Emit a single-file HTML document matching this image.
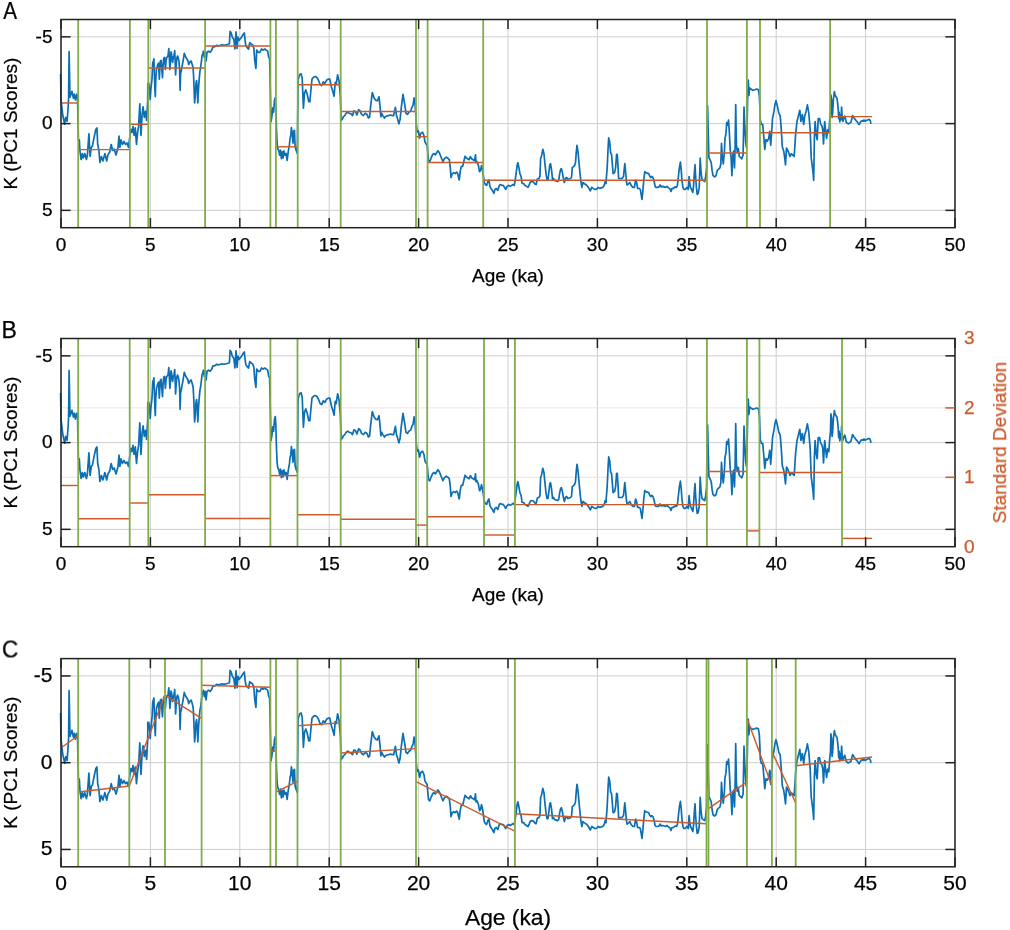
<!DOCTYPE html>
<html><head><meta charset="utf-8"><style>
html,body{margin:0;padding:0;background:#fff;}
svg{display:block;font-family:"Liberation Sans",sans-serif;will-change:transform;}
text{stroke:#000;stroke-width:0.25px;}
text.o{stroke:#cc5a2c;}

</style></head><body>
<svg width="1010" height="930" viewBox="0 0 1010 930">
<defs><filter id="soft" x="0" y="0" width="1" height="1"><feGaussianBlur stdDeviation="0.3"/></filter></defs>
<rect width="1010" height="930" fill="#fff"/>
<g filter="url(#soft)">
<rect width="1010" height="930" fill="#fff"/>
<line x1="61.00" y1="19.5" x2="61.00" y2="227.7" stroke="#cecece" stroke-width="1"/>
<line x1="150.40" y1="19.5" x2="150.40" y2="227.7" stroke="#cecece" stroke-width="1"/>
<line x1="239.80" y1="19.5" x2="239.80" y2="227.7" stroke="#cecece" stroke-width="1"/>
<line x1="329.20" y1="19.5" x2="329.20" y2="227.7" stroke="#cecece" stroke-width="1"/>
<line x1="418.60" y1="19.5" x2="418.60" y2="227.7" stroke="#cecece" stroke-width="1"/>
<line x1="508.00" y1="19.5" x2="508.00" y2="227.7" stroke="#cecece" stroke-width="1"/>
<line x1="597.40" y1="19.5" x2="597.40" y2="227.7" stroke="#cecece" stroke-width="1"/>
<line x1="686.80" y1="19.5" x2="686.80" y2="227.7" stroke="#cecece" stroke-width="1"/>
<line x1="776.20" y1="19.5" x2="776.20" y2="227.7" stroke="#cecece" stroke-width="1"/>
<line x1="865.60" y1="19.5" x2="865.60" y2="227.7" stroke="#cecece" stroke-width="1"/>
<line x1="955.00" y1="19.5" x2="955.00" y2="227.7" stroke="#cecece" stroke-width="1"/>
<line x1="61.0" y1="36.85" x2="955.0" y2="36.85" stroke="#cecece" stroke-width="1"/>
<line x1="61.0" y1="123.60" x2="955.0" y2="123.60" stroke="#cecece" stroke-width="1"/>
<line x1="61.0" y1="210.35" x2="955.0" y2="210.35" stroke="#cecece" stroke-width="1"/>
<path d="M60.6,54.4 L61.0,80.5 L62.8,96.0 L64.7,104.7 L65.7,97.9 L67.1,101.8 L68.1,88.3 L68.6,78.6 L69.1,32.1 L70.0,77.6 L72.0,71.8 L73.4,78.6 L74.4,74.7 L75.4,80.5 L76.8,74.7 L77.5,76.6 L78.4,120.4 L79.3,120.4 L79.9,131.0 L81.1,140.0 L82.3,134.0 L83.3,138.5 L84.8,134.0 L86.4,140.0 L87.4,135.5 L88.9,114.4 L90.1,137.0 L91.3,128.0 L92.4,126.5 L93.9,118.9 L95.8,109.9 L96.9,108.4 L97.7,125.0 L98.9,131.0 L99.9,143.0 L101.4,137.0 L102.9,141.5 L104.9,134.0 L106.7,141.5 L107.9,135.5 L109.7,132.5 L111.2,125.0 L112.7,131.0 L114.2,129.5 L116.0,135.5 L118.0,128.0 L119.0,116.7 L119.9,128.0 L121.0,120.4 L122.5,125.0 L124.0,121.9 L125.5,125.0 L127.0,123.5 L128.5,128.0 L129.6,118.9 L130.8,109.9 L132.0,112.9 L133.0,106.9 L134.1,115.9 L135.3,108.4 L136.5,125.0 L137.6,112.9 L138.6,106.9 L139.8,84.3 L141.0,115.9 L142.1,94.8 L143.1,87.3 L144.3,97.8 L145.5,91.8 L146.6,100.9 L147.7,81.3 L147.8,63.8 L148.8,63.8 L149.5,69.4 L150.2,79.9 L150.9,69.4 L152.0,59.6 L152.7,43.6 L153.4,41.5 L153.9,39.4 L154.4,55.4 L154.9,69.4 L155.3,77.1 L155.8,59.6 L156.5,49.9 L157.2,47.1 L157.9,45.0 L158.6,43.6 L159.3,59.6 L159.8,49.9 L160.4,41.5 L161.1,40.8 L161.8,49.9 L162.5,58.2 L163.0,47.1 L163.7,38.7 L164.6,38.0 L165.4,49.9 L166.0,41.5 L166.7,38.0 L167.4,37.3 L168.1,35.9 L168.8,29.2 L169.3,38.0 L169.9,49.9 L170.5,41.5 L171.0,32.4 L171.6,34.5 L172.1,40.1 L172.6,42.9 L173.3,38.0 L174.0,35.9 L174.7,31.0 L175.2,42.9 L175.6,55.4 L176.1,47.1 L176.8,38.7 L177.5,36.6 L178.2,38.0 L178.9,41.5 L179.6,49.9 L180.1,70.8 L180.6,54.0 L181.3,51.2 L182.0,47.1 L182.7,43.6 L183.4,39.4 L184.3,33.8 L185.0,35.9 L185.9,38.0 L186.9,39.4 L188.0,41.5 L188.7,45.0 L189.4,43.6 L190.3,42.2 L191.1,41.5 L192.2,45.0 L193.1,48.5 L193.6,56.8 L194.1,69.4 L194.6,83.4 L195.3,76.4 L196.0,63.8 L196.6,61.0 L197.3,69.4 L197.8,83.4 L198.5,69.4 L199.2,59.6 L199.9,51.9 L200.6,48.5 L201.3,42.9 L202.0,36.6 L202.7,34.5 L203.4,31.7 L204.0,35.9 L204.4,38.0 L205.1,32.8 L206.1,41.4 L207.0,32.8 L208.6,31.7 L210.2,32.8 L211.8,30.6 L212.9,27.4 L214.5,27.4 L216.7,25.8 L218.8,26.3 L220.4,25.8 L222.0,25.2 L224.2,25.8 L226.3,25.2 L228.0,24.7 L229.4,24.2 L230.1,11.8 L231.2,13.4 L232.3,17.7 L233.9,19.9 L234.9,29.5 L236.0,12.3 L237.1,29.0 L238.0,17.7 L239.0,20.9 L241.6,17.7 L242.7,15.6 L244.3,13.4 L245.2,22.0 L245.9,26.3 L247.5,28.5 L248.6,29.5 L249.7,23.1 L250.8,24.2 L252.4,25.2 L253.8,28.5 L254.8,41.4 L255.9,48.9 L256.7,30.6 L258.3,32.8 L259.9,32.8 L261.5,29.5 L263.1,30.6 L264.7,29.5 L266.3,30.6 L267.7,31.7 L268.8,38.1 L269.6,39.2 L270.6,84.1 L271.0,102.2 L271.9,97.0 L272.8,88.4 L273.6,92.7 L274.5,80.7 L275.3,78.1 L275.8,85.8 L276.5,109.9 L277.1,123.7 L277.7,128.8 L278.8,131.4 L279.6,135.7 L280.5,130.6 L281.4,139.2 L282.2,132.3 L283.1,138.3 L283.9,131.4 L285.1,135.7 L286.1,134.0 L287.1,140.9 L288.2,132.3 L289.4,125.4 L290.0,119.4 L290.8,115.9 L291.4,108.2 L292.1,113.3 L293.0,123.7 L293.7,111.6 L294.5,110.8 L295.1,127.1 L296.0,130.6 L296.8,132.3 L297.3,134.0 L298.1,60.7 L298.6,58.6 L299.7,55.3 L301.1,54.3 L302.2,58.6 L303.4,88.7 L304.5,73.6 L305.8,70.4 L307.2,74.7 L308.8,82.2 L309.9,82.2 L311.0,69.3 L312.0,59.6 L313.7,57.5 L315.3,57.0 L316.9,58.0 L318.5,60.7 L320.1,65.0 L321.7,66.1 L323.3,62.3 L324.9,63.9 L326.6,60.7 L328.2,59.6 L329.8,59.6 L331.4,67.2 L332.7,71.5 L334.1,76.8 L335.2,62.9 L336.2,65.0 L337.6,55.3 L339.1,61.8 L340.3,76.0 L341.2,100.9 L342.3,99.7 L343.3,97.3 L344.7,96.1 L346.2,93.8 L347.8,92.6 L349.2,93.8 L351.0,94.3 L352.5,96.1 L353.9,91.4 L355.4,92.0 L356.9,95.5 L358.7,90.2 L360.1,91.4 L361.6,94.9 L363.4,96.1 L365.2,93.8 L367.0,94.9 L368.4,98.5 L369.6,97.3 L370.5,87.8 L372.3,73.0 L374.1,78.4 L375.8,80.7 L377.4,81.3 L379.0,77.2 L380.0,86.7 L380.9,97.3 L381.7,93.8 L382.9,96.1 L384.5,98.5 L385.9,96.7 L388.3,96.1 L390.6,95.5 L392.4,96.1 L393.6,96.1 L395.4,87.8 L396.5,96.1 L397.7,99.7 L398.9,104.4 L400.1,99.7 L401.3,87.8 L403.0,74.8 L404.8,85.5 L406.0,93.8 L407.4,94.9 L409.0,92.6 L410.7,91.4 L411.9,87.8 L413.1,85.5 L414.1,78.4 L414.9,81.9 L415.5,91.4 L416.4,105.6 L417.2,112.7 L418.4,111.5 L419.6,118.6 L420.8,113.9 L422.6,112.7 L424.0,116.2 L424.9,122.2 L426.1,124.5 L427.1,125.7 L428.5,141.1 L429.7,142.3 L431.1,138.7 L432.6,135.2 L433.8,134.0 L435.4,135.3 L437.9,131.3 L439.4,133.3 L440.9,137.2 L442.9,142.2 L444.4,139.2 L446.3,137.7 L447.8,138.7 L449.3,140.2 L450.3,148.1 L451.0,158.0 L452.3,154.1 L453.8,153.1 L455.2,154.1 L456.7,152.6 L457.7,154.1 L459.2,160.5 L460.2,152.1 L461.2,147.1 L462.7,146.6 L464.2,140.2 L465.1,136.7 L466.1,138.2 L467.6,139.2 L469.1,140.2 L470.4,137.2 L471.6,139.2 L473.1,140.2 L474.6,141.2 L475.5,135.3 L476.0,143.2 L477.0,142.2 L478.5,146.1 L479.5,152.1 L480.5,151.1 L481.5,146.1 L482.5,150.1 L483.5,157.0 L484.3,163.0 L485.4,165.0 L486.6,165.9 L487.9,162.0 L488.9,160.5 L489.9,166.9 L490.9,168.9 L492.4,170.9 L493.9,173.9 L494.9,169.9 L496.3,168.9 L497.8,170.9 L499.3,165.9 L500.5,165.0 L501.8,165.9 L503.3,165.9 L504.5,167.9 L505.7,169.9 L507.2,166.9 L508.7,165.9 L510.2,166.9 L511.7,165.9 L513.0,165.0 L514.2,165.9 L515.0,162.0 L516.1,154.1 L517.1,146.1 L517.9,143.2 L518.9,148.1 L519.9,154.1 L521.1,157.0 L522.1,164.0 L523.6,164.0 L525.0,165.9 L526.5,166.9 L528.0,167.9 L529.0,165.9 L530.4,162.5 L531.9,162.0 L533.4,162.5 L534.9,164.5 L536.1,165.0 L537.4,159.5 L538.9,159.0 L539.9,157.0 L540.6,139.2 L541.6,136.2 L542.8,129.8 L544.0,134.3 L544.8,143.2 L546.0,154.1 L547.0,160.0 L548.0,160.0 L549.0,152.1 L549.8,145.2 L550.5,144.2 L551.5,150.1 L552.5,160.0 L553.5,159.0 L554.7,161.0 L556.2,161.5 L557.5,162.0 L558.7,161.0 L559.7,154.1 L560.6,150.1 L561.4,149.1 L562.4,153.1 L563.4,159.0 L564.4,163.0 L565.4,159.0 L566.6,158.0 L567.8,160.0 L569.1,159.5 L570.5,159.0 L571.5,158.0 L572.3,148.1 L573.5,147.1 L574.5,146.1 L575.5,143.2 L576.3,132.3 L577.0,125.8 L578.0,132.3 L579.0,143.2 L580.0,154.1 L580.9,162.0 L581.9,167.9 L582.9,163.0 L584.2,164.0 L585.6,165.0 L586.9,165.9 L588.4,167.9 L590.3,171.4 L591.8,167.9 L593.3,168.9 L594.8,169.9 L596.3,169.9 L598.3,167.9 L599.8,168.9 L601.2,168.4 L602.7,167.9 L604.2,165.9 L605.2,162.0 L606.0,164.0 L606.4,158.0 L607.2,148.1 L608.0,130.3 L608.7,118.4 L609.7,122.4 L610.6,133.3 L611.6,135.3 L612.6,148.1 L613.1,154.1 L614.6,153.1 L615.6,148.1 L616.6,134.8 L617.3,135.3 L618.1,148.1 L618.6,159.0 L620.0,159.0 L622.0,159.0 L623.5,157.0 L624.8,144.2 L625.7,153.1 L626.4,162.0 L627.1,165.5 L628.4,164.5 L629.9,163.0 L631.1,165.9 L632.9,167.9 L634.4,167.9 L635.6,160.5 L636.6,163.0 L637.6,168.9 L639.0,168.9 L640.3,169.9 L641.3,175.8 L642.0,179.8 L643.0,169.9 L643.8,160.0 L644.8,152.1 L645.7,153.1 L647.2,153.6 L648.7,154.1 L649.7,156.5 L650.7,158.0 L651.7,157.0 L652.9,158.0 L654.2,162.0 L655.1,166.9 L656.1,167.9 L657.6,167.9 L659.1,167.4 L660.1,165.5 L661.4,167.4 L662.6,166.9 L664.1,167.4 L665.5,167.9 L667.0,166.9 L668.5,168.4 L670.0,169.4 L671.0,171.9 L672.0,168.9 L673.5,168.9 L675.0,167.4 L676.4,167.9 L677.4,165.9 L678.4,157.0 L679.4,148.1 L680.4,142.7 L681.2,150.1 L681.9,160.0 L682.9,167.9 L683.9,169.9 L685.3,169.9 L686.8,167.9 L688.3,169.9 L689.1,157.0 L689.8,164.0 L690.5,167.9 L691.5,169.9 L692.8,172.9 L693.5,166.9 L694.3,154.1 L695.0,145.2 L695.7,158.0 L696.4,167.9 L697.2,174.9 L698.2,173.9 L699.2,167.9 L700.2,138.7 L701.0,152.1 L702.0,160.0 L703.2,161.0 L704.7,162.0 L705.6,158.0 L706.6,148.1 L706.9,112.2 L707.6,86.3 L708.2,112.2 L708.9,138.0 L710.2,140.6 L711.2,143.2 L712.1,150.9 L713.0,156.1 L714.7,157.4 L716.0,156.1 L717.3,150.9 L718.6,149.6 L719.9,148.4 L720.8,144.5 L721.5,123.8 L722.4,138.0 L723.3,144.5 L724.4,132.9 L725.0,118.6 L725.9,114.8 L726.7,103.1 L727.6,105.7 L728.5,100.6 L729.3,112.2 L730.2,130.3 L731.1,138.0 L731.9,156.1 L732.8,135.4 L733.7,131.6 L734.5,148.4 L735.1,127.7 L735.7,85.0 L736.4,125.1 L737.3,132.9 L738.3,129.0 L739.2,136.7 L740.5,138.0 L741.8,139.3 L743.1,135.4 L744.0,87.6 L744.8,105.7 L745.7,122.5 L746.3,127.7 L747.0,112.2 L747.6,79.9 L748.3,60.5 L748.9,76.0 L749.6,68.3 L750.9,69.5 L752.8,70.8 L754.7,70.2 L756.7,69.5 L758.4,70.2 L759.3,76.0 L759.8,86.3 L760.3,100.6 L761.3,104.8 L762.7,104.8 L763.7,116.0 L764.8,130.0 L765.9,120.2 L767.3,121.6 L768.7,118.8 L769.7,111.8 L770.7,125.8 L771.5,114.6 L772.5,99.2 L773.9,92.2 L774.9,85.3 L776.0,81.1 L777.4,86.7 L778.8,93.6 L780.2,96.4 L781.3,110.4 L782.3,127.2 L783.7,131.4 L784.7,138.4 L785.5,145.4 L786.5,128.6 L787.4,130.0 L788.6,132.8 L790.0,137.0 L791.4,134.2 L792.8,135.6 L794.2,137.0 L795.6,114.6 L797.0,102.0 L798.4,96.4 L799.8,90.8 L800.9,102.0 L802.3,95.0 L803.7,104.8 L804.7,96.4 L806.0,92.2 L807.4,85.3 L808.8,93.6 L810.2,110.4 L811.2,138.4 L812.3,146.8 L813.0,152.4 L813.7,160.8 L814.4,117.4 L815.1,102.0 L816.3,116.0 L817.2,120.2 L818.2,99.2 L819.6,99.2 L820.7,104.8 L821.9,106.2 L822.8,110.4 L823.5,124.4 L824.7,102.0 L825.6,110.4 L826.6,118.8 L827.7,110.4 L828.8,113.2 L829.8,99.2 L830.5,92.8 L830.9,75.3 L831.5,79.9 L832.1,97.9 L832.7,92.8 L833.4,79.9 L834.4,72.1 L835.0,75.3 L836.0,77.3 L836.9,78.6 L837.6,83.1 L838.2,89.5 L838.7,99.2 L839.2,92.8 L839.8,102.4 L840.5,95.3 L841.0,100.5 L841.6,87.6 L842.1,96.6 L842.9,101.8 L843.7,99.2 L844.7,96.6 L845.5,99.2 L846.3,103.1 L847.3,103.7 L848.2,104.4 L849.5,103.7 L850.8,103.1 L851.8,99.2 L852.6,96.0 L853.7,97.9 L854.7,99.2 L856.0,101.1 L857.3,102.4 L858.5,104.4 L859.2,105.0 L860.2,103.1 L861.1,101.8 L862.1,101.1 L863.1,101.8 L864.0,100.5 L865.0,101.8 L866.3,101.1 L867.6,100.5 L868.9,99.9 L869.8,100.5 L870.5,101.8 L870.9,104.4" transform="translate(0,19.5)" fill="none" stroke="#0a6eb4" stroke-width="1.7" stroke-linejoin="round"/>
<line x1="61" y1="103" x2="78.2" y2="103" stroke="#cc5a2c" stroke-width="1.45"/><line x1="78.2" y1="149.6" x2="129.9" y2="149.6" stroke="#cc5a2c" stroke-width="1.45"/><line x1="129.9" y1="124.3" x2="148.3" y2="124.3" stroke="#cc5a2c" stroke-width="1.45"/><line x1="148.3" y1="68" x2="205.1" y2="68" stroke="#cc5a2c" stroke-width="1.45"/><line x1="205.1" y1="46" x2="270.4" y2="46" stroke="#cc5a2c" stroke-width="1.45"/><line x1="275.9" y1="146.8" x2="297.7" y2="146.8" stroke="#cc5a2c" stroke-width="1.45"/><line x1="297.7" y1="84.7" x2="340.7" y2="84.7" stroke="#cc5a2c" stroke-width="1.45"/><line x1="340.7" y1="111.4" x2="416" y2="111.4" stroke="#cc5a2c" stroke-width="1.45"/><line x1="416" y1="136.7" x2="427.6" y2="136.7" stroke="#cc5a2c" stroke-width="1.45"/><line x1="427.6" y1="162.5" x2="483.2" y2="162.5" stroke="#cc5a2c" stroke-width="1.45"/><line x1="483.2" y1="180.3" x2="707" y2="180.3" stroke="#cc5a2c" stroke-width="1.45"/><line x1="707" y1="153" x2="746.9" y2="153" stroke="#cc5a2c" stroke-width="1.45"/><line x1="760" y1="132.8" x2="830.1" y2="132.8" stroke="#cc5a2c" stroke-width="1.45"/><line x1="830.1" y1="116.6" x2="872" y2="116.6" stroke="#cc5a2c" stroke-width="1.45"/>
<line x1="78.2" y1="19.5" x2="78.2" y2="227.7" stroke="#80ad48" stroke-width="1.8"/>
<line x1="129.9" y1="19.5" x2="129.9" y2="227.7" stroke="#80ad48" stroke-width="1.8"/>
<line x1="148.3" y1="19.5" x2="148.3" y2="227.7" stroke="#80ad48" stroke-width="1.8"/>
<line x1="205.1" y1="19.5" x2="205.1" y2="227.7" stroke="#80ad48" stroke-width="1.8"/>
<line x1="270.4" y1="19.5" x2="270.4" y2="227.7" stroke="#80ad48" stroke-width="1.8"/>
<line x1="275.9" y1="19.5" x2="275.9" y2="227.7" stroke="#80ad48" stroke-width="1.8"/>
<line x1="297.7" y1="19.5" x2="297.7" y2="227.7" stroke="#80ad48" stroke-width="1.8"/>
<line x1="340.7" y1="19.5" x2="340.7" y2="227.7" stroke="#80ad48" stroke-width="1.8"/>
<line x1="416.0" y1="19.5" x2="416.0" y2="227.7" stroke="#80ad48" stroke-width="1.8"/>
<line x1="427.6" y1="19.5" x2="427.6" y2="227.7" stroke="#80ad48" stroke-width="1.8"/>
<line x1="483.2" y1="19.5" x2="483.2" y2="227.7" stroke="#80ad48" stroke-width="1.8"/>
<line x1="707.0" y1="19.5" x2="707.0" y2="227.7" stroke="#80ad48" stroke-width="1.8"/>
<line x1="746.9" y1="19.5" x2="746.9" y2="227.7" stroke="#80ad48" stroke-width="1.8"/>
<line x1="760.0" y1="19.5" x2="760.0" y2="227.7" stroke="#80ad48" stroke-width="1.8"/>
<line x1="830.1" y1="19.5" x2="830.1" y2="227.7" stroke="#80ad48" stroke-width="1.8"/>
<rect x="61.0" y="19.5" width="894.0" height="208.2" fill="none" stroke="#222" stroke-width="1.5"/>
<line x1="61.00" y1="227.7" x2="61.00" y2="218.1" stroke="#222" stroke-width="1.5"/>
<line x1="61.00" y1="19.5" x2="61.00" y2="29.1" stroke="#222" stroke-width="1.5"/>
<line x1="150.40" y1="227.7" x2="150.40" y2="218.1" stroke="#222" stroke-width="1.5"/>
<line x1="150.40" y1="19.5" x2="150.40" y2="29.1" stroke="#222" stroke-width="1.5"/>
<line x1="239.80" y1="227.7" x2="239.80" y2="218.1" stroke="#222" stroke-width="1.5"/>
<line x1="239.80" y1="19.5" x2="239.80" y2="29.1" stroke="#222" stroke-width="1.5"/>
<line x1="329.20" y1="227.7" x2="329.20" y2="218.1" stroke="#222" stroke-width="1.5"/>
<line x1="329.20" y1="19.5" x2="329.20" y2="29.1" stroke="#222" stroke-width="1.5"/>
<line x1="418.60" y1="227.7" x2="418.60" y2="218.1" stroke="#222" stroke-width="1.5"/>
<line x1="418.60" y1="19.5" x2="418.60" y2="29.1" stroke="#222" stroke-width="1.5"/>
<line x1="508.00" y1="227.7" x2="508.00" y2="218.1" stroke="#222" stroke-width="1.5"/>
<line x1="508.00" y1="19.5" x2="508.00" y2="29.1" stroke="#222" stroke-width="1.5"/>
<line x1="597.40" y1="227.7" x2="597.40" y2="218.1" stroke="#222" stroke-width="1.5"/>
<line x1="597.40" y1="19.5" x2="597.40" y2="29.1" stroke="#222" stroke-width="1.5"/>
<line x1="686.80" y1="227.7" x2="686.80" y2="218.1" stroke="#222" stroke-width="1.5"/>
<line x1="686.80" y1="19.5" x2="686.80" y2="29.1" stroke="#222" stroke-width="1.5"/>
<line x1="776.20" y1="227.7" x2="776.20" y2="218.1" stroke="#222" stroke-width="1.5"/>
<line x1="776.20" y1="19.5" x2="776.20" y2="29.1" stroke="#222" stroke-width="1.5"/>
<line x1="865.60" y1="227.7" x2="865.60" y2="218.1" stroke="#222" stroke-width="1.5"/>
<line x1="865.60" y1="19.5" x2="865.60" y2="29.1" stroke="#222" stroke-width="1.5"/>
<line x1="955.00" y1="227.7" x2="955.00" y2="218.1" stroke="#222" stroke-width="1.5"/>
<line x1="955.00" y1="19.5" x2="955.00" y2="29.1" stroke="#222" stroke-width="1.5"/>
<line x1="61.0" y1="36.85" x2="70.6" y2="36.85" stroke="#222" stroke-width="1.5"/>
<line x1="955.0" y1="36.85" x2="945.4" y2="36.85" stroke="#222" stroke-width="1.5"/>
<line x1="61.0" y1="123.60" x2="70.6" y2="123.60" stroke="#222" stroke-width="1.5"/>
<line x1="955.0" y1="123.60" x2="945.4" y2="123.60" stroke="#222" stroke-width="1.5"/>
<line x1="61.0" y1="210.35" x2="70.6" y2="210.35" stroke="#222" stroke-width="1.5"/>
<line x1="955.0" y1="210.35" x2="945.4" y2="210.35" stroke="#222" stroke-width="1.5"/>
<text x="61.00" y="250.50" font-size="19" text-anchor="middle">0</text>
<text x="150.40" y="250.50" font-size="19" text-anchor="middle">5</text>
<text x="239.80" y="250.50" font-size="19" text-anchor="middle">10</text>
<text x="329.20" y="250.50" font-size="19" text-anchor="middle">15</text>
<text x="418.60" y="250.50" font-size="19" text-anchor="middle">20</text>
<text x="508.00" y="250.50" font-size="19" text-anchor="middle">25</text>
<text x="597.40" y="250.50" font-size="19" text-anchor="middle">30</text>
<text x="686.80" y="250.50" font-size="19" text-anchor="middle">35</text>
<text x="776.20" y="250.50" font-size="19" text-anchor="middle">40</text>
<text x="865.60" y="250.50" font-size="19" text-anchor="middle">45</text>
<text x="955.00" y="250.50" font-size="19" text-anchor="middle">50</text>
<text x="52.5" y="42.65" font-size="19" text-anchor="end">-5</text>
<text x="52.5" y="129.40" font-size="19" text-anchor="end">0</text>
<text x="52.5" y="216.15" font-size="19" text-anchor="end">5</text>
<text x="508.0" y="281.60" font-size="19" text-anchor="middle">Age (ka)</text>
<text transform="translate(16.8,123.6) rotate(-90)" x="0" y="0" font-size="19" text-anchor="middle">K (PC1 Scores)</text>
<text transform="translate(3.3,18.8) scale(0.9,1)" font-size="23">A</text>
<line x1="61.00" y1="338.5" x2="61.00" y2="546.7" stroke="#cecece" stroke-width="1"/>
<line x1="150.40" y1="338.5" x2="150.40" y2="546.7" stroke="#cecece" stroke-width="1"/>
<line x1="239.80" y1="338.5" x2="239.80" y2="546.7" stroke="#cecece" stroke-width="1"/>
<line x1="329.20" y1="338.5" x2="329.20" y2="546.7" stroke="#cecece" stroke-width="1"/>
<line x1="418.60" y1="338.5" x2="418.60" y2="546.7" stroke="#cecece" stroke-width="1"/>
<line x1="508.00" y1="338.5" x2="508.00" y2="546.7" stroke="#cecece" stroke-width="1"/>
<line x1="597.40" y1="338.5" x2="597.40" y2="546.7" stroke="#cecece" stroke-width="1"/>
<line x1="686.80" y1="338.5" x2="686.80" y2="546.7" stroke="#cecece" stroke-width="1"/>
<line x1="776.20" y1="338.5" x2="776.20" y2="546.7" stroke="#cecece" stroke-width="1"/>
<line x1="865.60" y1="338.5" x2="865.60" y2="546.7" stroke="#cecece" stroke-width="1"/>
<line x1="955.00" y1="338.5" x2="955.00" y2="546.7" stroke="#cecece" stroke-width="1"/>
<line x1="61.0" y1="355.85" x2="955.0" y2="355.85" stroke="#cecece" stroke-width="1"/>
<line x1="61.0" y1="442.60" x2="955.0" y2="442.60" stroke="#cecece" stroke-width="1"/>
<line x1="61.0" y1="529.35" x2="955.0" y2="529.35" stroke="#cecece" stroke-width="1"/>
<line x1="61.0" y1="477.30" x2="955.0" y2="477.30" stroke="#f5e2d8" stroke-width="1"/>
<line x1="61.0" y1="407.90" x2="955.0" y2="407.90" stroke="#f5e2d8" stroke-width="1"/>
<path d="M60.6,54.4 L61.0,80.5 L62.8,96.0 L64.7,104.7 L65.7,97.9 L67.1,101.8 L68.1,88.3 L68.6,78.6 L69.1,32.1 L70.0,77.6 L72.0,71.8 L73.4,78.6 L74.4,74.7 L75.4,80.5 L76.8,74.7 L77.5,76.6 L78.4,120.4 L79.3,120.4 L79.9,131.0 L81.1,140.0 L82.3,134.0 L83.3,138.5 L84.8,134.0 L86.4,140.0 L87.4,135.5 L88.9,114.4 L90.1,137.0 L91.3,128.0 L92.4,126.5 L93.9,118.9 L95.8,109.9 L96.9,108.4 L97.7,125.0 L98.9,131.0 L99.9,143.0 L101.4,137.0 L102.9,141.5 L104.9,134.0 L106.7,141.5 L107.9,135.5 L109.7,132.5 L111.2,125.0 L112.7,131.0 L114.2,129.5 L116.0,135.5 L118.0,128.0 L119.0,116.7 L119.9,128.0 L121.0,120.4 L122.5,125.0 L124.0,121.9 L125.5,125.0 L127.0,123.5 L128.5,128.0 L129.6,118.9 L130.8,109.9 L132.0,112.9 L133.0,106.9 L134.1,115.9 L135.3,108.4 L136.5,125.0 L137.6,112.9 L138.6,106.9 L139.8,84.3 L141.0,115.9 L142.1,94.8 L143.1,87.3 L144.3,97.8 L145.5,91.8 L146.6,100.9 L147.7,81.3 L147.8,63.8 L148.8,63.8 L149.5,69.4 L150.2,79.9 L150.9,69.4 L152.0,59.6 L152.7,43.6 L153.4,41.5 L153.9,39.4 L154.4,55.4 L154.9,69.4 L155.3,77.1 L155.8,59.6 L156.5,49.9 L157.2,47.1 L157.9,45.0 L158.6,43.6 L159.3,59.6 L159.8,49.9 L160.4,41.5 L161.1,40.8 L161.8,49.9 L162.5,58.2 L163.0,47.1 L163.7,38.7 L164.6,38.0 L165.4,49.9 L166.0,41.5 L166.7,38.0 L167.4,37.3 L168.1,35.9 L168.8,29.2 L169.3,38.0 L169.9,49.9 L170.5,41.5 L171.0,32.4 L171.6,34.5 L172.1,40.1 L172.6,42.9 L173.3,38.0 L174.0,35.9 L174.7,31.0 L175.2,42.9 L175.6,55.4 L176.1,47.1 L176.8,38.7 L177.5,36.6 L178.2,38.0 L178.9,41.5 L179.6,49.9 L180.1,70.8 L180.6,54.0 L181.3,51.2 L182.0,47.1 L182.7,43.6 L183.4,39.4 L184.3,33.8 L185.0,35.9 L185.9,38.0 L186.9,39.4 L188.0,41.5 L188.7,45.0 L189.4,43.6 L190.3,42.2 L191.1,41.5 L192.2,45.0 L193.1,48.5 L193.6,56.8 L194.1,69.4 L194.6,83.4 L195.3,76.4 L196.0,63.8 L196.6,61.0 L197.3,69.4 L197.8,83.4 L198.5,69.4 L199.2,59.6 L199.9,51.9 L200.6,48.5 L201.3,42.9 L202.0,36.6 L202.7,34.5 L203.4,31.7 L204.0,35.9 L204.4,38.0 L205.1,32.8 L206.1,41.4 L207.0,32.8 L208.6,31.7 L210.2,32.8 L211.8,30.6 L212.9,27.4 L214.5,27.4 L216.7,25.8 L218.8,26.3 L220.4,25.8 L222.0,25.2 L224.2,25.8 L226.3,25.2 L228.0,24.7 L229.4,24.2 L230.1,11.8 L231.2,13.4 L232.3,17.7 L233.9,19.9 L234.9,29.5 L236.0,12.3 L237.1,29.0 L238.0,17.7 L239.0,20.9 L241.6,17.7 L242.7,15.6 L244.3,13.4 L245.2,22.0 L245.9,26.3 L247.5,28.5 L248.6,29.5 L249.7,23.1 L250.8,24.2 L252.4,25.2 L253.8,28.5 L254.8,41.4 L255.9,48.9 L256.7,30.6 L258.3,32.8 L259.9,32.8 L261.5,29.5 L263.1,30.6 L264.7,29.5 L266.3,30.6 L267.7,31.7 L268.8,38.1 L269.6,39.2 L270.6,84.1 L271.0,102.2 L271.9,97.0 L272.8,88.4 L273.6,92.7 L274.5,80.7 L275.3,78.1 L275.8,85.8 L276.5,109.9 L277.1,123.7 L277.7,128.8 L278.8,131.4 L279.6,135.7 L280.5,130.6 L281.4,139.2 L282.2,132.3 L283.1,138.3 L283.9,131.4 L285.1,135.7 L286.1,134.0 L287.1,140.9 L288.2,132.3 L289.4,125.4 L290.0,119.4 L290.8,115.9 L291.4,108.2 L292.1,113.3 L293.0,123.7 L293.7,111.6 L294.5,110.8 L295.1,127.1 L296.0,130.6 L296.8,132.3 L297.3,134.0 L298.1,60.7 L298.6,58.6 L299.7,55.3 L301.1,54.3 L302.2,58.6 L303.4,88.7 L304.5,73.6 L305.8,70.4 L307.2,74.7 L308.8,82.2 L309.9,82.2 L311.0,69.3 L312.0,59.6 L313.7,57.5 L315.3,57.0 L316.9,58.0 L318.5,60.7 L320.1,65.0 L321.7,66.1 L323.3,62.3 L324.9,63.9 L326.6,60.7 L328.2,59.6 L329.8,59.6 L331.4,67.2 L332.7,71.5 L334.1,76.8 L335.2,62.9 L336.2,65.0 L337.6,55.3 L339.1,61.8 L340.3,76.0 L341.2,100.9 L342.3,99.7 L343.3,97.3 L344.7,96.1 L346.2,93.8 L347.8,92.6 L349.2,93.8 L351.0,94.3 L352.5,96.1 L353.9,91.4 L355.4,92.0 L356.9,95.5 L358.7,90.2 L360.1,91.4 L361.6,94.9 L363.4,96.1 L365.2,93.8 L367.0,94.9 L368.4,98.5 L369.6,97.3 L370.5,87.8 L372.3,73.0 L374.1,78.4 L375.8,80.7 L377.4,81.3 L379.0,77.2 L380.0,86.7 L380.9,97.3 L381.7,93.8 L382.9,96.1 L384.5,98.5 L385.9,96.7 L388.3,96.1 L390.6,95.5 L392.4,96.1 L393.6,96.1 L395.4,87.8 L396.5,96.1 L397.7,99.7 L398.9,104.4 L400.1,99.7 L401.3,87.8 L403.0,74.8 L404.8,85.5 L406.0,93.8 L407.4,94.9 L409.0,92.6 L410.7,91.4 L411.9,87.8 L413.1,85.5 L414.1,78.4 L414.9,81.9 L415.5,91.4 L416.4,105.6 L417.2,112.7 L418.4,111.5 L419.6,118.6 L420.8,113.9 L422.6,112.7 L424.0,116.2 L424.9,122.2 L426.1,124.5 L427.1,125.7 L428.5,141.1 L429.7,142.3 L431.1,138.7 L432.6,135.2 L433.8,134.0 L435.4,135.3 L437.9,131.3 L439.4,133.3 L440.9,137.2 L442.9,142.2 L444.4,139.2 L446.3,137.7 L447.8,138.7 L449.3,140.2 L450.3,148.1 L451.0,158.0 L452.3,154.1 L453.8,153.1 L455.2,154.1 L456.7,152.6 L457.7,154.1 L459.2,160.5 L460.2,152.1 L461.2,147.1 L462.7,146.6 L464.2,140.2 L465.1,136.7 L466.1,138.2 L467.6,139.2 L469.1,140.2 L470.4,137.2 L471.6,139.2 L473.1,140.2 L474.6,141.2 L475.5,135.3 L476.0,143.2 L477.0,142.2 L478.5,146.1 L479.5,152.1 L480.5,151.1 L481.5,146.1 L482.5,150.1 L483.5,157.0 L484.3,163.0 L485.4,165.0 L486.6,165.9 L487.9,162.0 L488.9,160.5 L489.9,166.9 L490.9,168.9 L492.4,170.9 L493.9,173.9 L494.9,169.9 L496.3,168.9 L497.8,170.9 L499.3,165.9 L500.5,165.0 L501.8,165.9 L503.3,165.9 L504.5,167.9 L505.7,169.9 L507.2,166.9 L508.7,165.9 L510.2,166.9 L511.7,165.9 L513.0,165.0 L514.2,165.9 L515.0,162.0 L516.1,154.1 L517.1,146.1 L517.9,143.2 L518.9,148.1 L519.9,154.1 L521.1,157.0 L522.1,164.0 L523.6,164.0 L525.0,165.9 L526.5,166.9 L528.0,167.9 L529.0,165.9 L530.4,162.5 L531.9,162.0 L533.4,162.5 L534.9,164.5 L536.1,165.0 L537.4,159.5 L538.9,159.0 L539.9,157.0 L540.6,139.2 L541.6,136.2 L542.8,129.8 L544.0,134.3 L544.8,143.2 L546.0,154.1 L547.0,160.0 L548.0,160.0 L549.0,152.1 L549.8,145.2 L550.5,144.2 L551.5,150.1 L552.5,160.0 L553.5,159.0 L554.7,161.0 L556.2,161.5 L557.5,162.0 L558.7,161.0 L559.7,154.1 L560.6,150.1 L561.4,149.1 L562.4,153.1 L563.4,159.0 L564.4,163.0 L565.4,159.0 L566.6,158.0 L567.8,160.0 L569.1,159.5 L570.5,159.0 L571.5,158.0 L572.3,148.1 L573.5,147.1 L574.5,146.1 L575.5,143.2 L576.3,132.3 L577.0,125.8 L578.0,132.3 L579.0,143.2 L580.0,154.1 L580.9,162.0 L581.9,167.9 L582.9,163.0 L584.2,164.0 L585.6,165.0 L586.9,165.9 L588.4,167.9 L590.3,171.4 L591.8,167.9 L593.3,168.9 L594.8,169.9 L596.3,169.9 L598.3,167.9 L599.8,168.9 L601.2,168.4 L602.7,167.9 L604.2,165.9 L605.2,162.0 L606.0,164.0 L606.4,158.0 L607.2,148.1 L608.0,130.3 L608.7,118.4 L609.7,122.4 L610.6,133.3 L611.6,135.3 L612.6,148.1 L613.1,154.1 L614.6,153.1 L615.6,148.1 L616.6,134.8 L617.3,135.3 L618.1,148.1 L618.6,159.0 L620.0,159.0 L622.0,159.0 L623.5,157.0 L624.8,144.2 L625.7,153.1 L626.4,162.0 L627.1,165.5 L628.4,164.5 L629.9,163.0 L631.1,165.9 L632.9,167.9 L634.4,167.9 L635.6,160.5 L636.6,163.0 L637.6,168.9 L639.0,168.9 L640.3,169.9 L641.3,175.8 L642.0,179.8 L643.0,169.9 L643.8,160.0 L644.8,152.1 L645.7,153.1 L647.2,153.6 L648.7,154.1 L649.7,156.5 L650.7,158.0 L651.7,157.0 L652.9,158.0 L654.2,162.0 L655.1,166.9 L656.1,167.9 L657.6,167.9 L659.1,167.4 L660.1,165.5 L661.4,167.4 L662.6,166.9 L664.1,167.4 L665.5,167.9 L667.0,166.9 L668.5,168.4 L670.0,169.4 L671.0,171.9 L672.0,168.9 L673.5,168.9 L675.0,167.4 L676.4,167.9 L677.4,165.9 L678.4,157.0 L679.4,148.1 L680.4,142.7 L681.2,150.1 L681.9,160.0 L682.9,167.9 L683.9,169.9 L685.3,169.9 L686.8,167.9 L688.3,169.9 L689.1,157.0 L689.8,164.0 L690.5,167.9 L691.5,169.9 L692.8,172.9 L693.5,166.9 L694.3,154.1 L695.0,145.2 L695.7,158.0 L696.4,167.9 L697.2,174.9 L698.2,173.9 L699.2,167.9 L700.2,138.7 L701.0,152.1 L702.0,160.0 L703.2,161.0 L704.7,162.0 L705.6,158.0 L706.6,148.1 L706.9,112.2 L707.6,86.3 L708.2,112.2 L708.9,138.0 L710.2,140.6 L711.2,143.2 L712.1,150.9 L713.0,156.1 L714.7,157.4 L716.0,156.1 L717.3,150.9 L718.6,149.6 L719.9,148.4 L720.8,144.5 L721.5,123.8 L722.4,138.0 L723.3,144.5 L724.4,132.9 L725.0,118.6 L725.9,114.8 L726.7,103.1 L727.6,105.7 L728.5,100.6 L729.3,112.2 L730.2,130.3 L731.1,138.0 L731.9,156.1 L732.8,135.4 L733.7,131.6 L734.5,148.4 L735.1,127.7 L735.7,85.0 L736.4,125.1 L737.3,132.9 L738.3,129.0 L739.2,136.7 L740.5,138.0 L741.8,139.3 L743.1,135.4 L744.0,87.6 L744.8,105.7 L745.7,122.5 L746.3,127.7 L747.0,112.2 L747.6,79.9 L748.3,60.5 L748.9,76.0 L749.6,68.3 L750.9,69.5 L752.8,70.8 L754.7,70.2 L756.7,69.5 L758.4,70.2 L759.3,76.0 L759.8,86.3 L760.3,100.6 L761.3,104.8 L762.7,104.8 L763.7,116.0 L764.8,130.0 L765.9,120.2 L767.3,121.6 L768.7,118.8 L769.7,111.8 L770.7,125.8 L771.5,114.6 L772.5,99.2 L773.9,92.2 L774.9,85.3 L776.0,81.1 L777.4,86.7 L778.8,93.6 L780.2,96.4 L781.3,110.4 L782.3,127.2 L783.7,131.4 L784.7,138.4 L785.5,145.4 L786.5,128.6 L787.4,130.0 L788.6,132.8 L790.0,137.0 L791.4,134.2 L792.8,135.6 L794.2,137.0 L795.6,114.6 L797.0,102.0 L798.4,96.4 L799.8,90.8 L800.9,102.0 L802.3,95.0 L803.7,104.8 L804.7,96.4 L806.0,92.2 L807.4,85.3 L808.8,93.6 L810.2,110.4 L811.2,138.4 L812.3,146.8 L813.0,152.4 L813.7,160.8 L814.4,117.4 L815.1,102.0 L816.3,116.0 L817.2,120.2 L818.2,99.2 L819.6,99.2 L820.7,104.8 L821.9,106.2 L822.8,110.4 L823.5,124.4 L824.7,102.0 L825.6,110.4 L826.6,118.8 L827.7,110.4 L828.8,113.2 L829.8,99.2 L830.5,92.8 L830.9,75.3 L831.5,79.9 L832.1,97.9 L832.7,92.8 L833.4,79.9 L834.4,72.1 L835.0,75.3 L836.0,77.3 L836.9,78.6 L837.6,83.1 L838.2,89.5 L838.7,99.2 L839.2,92.8 L839.8,102.4 L840.5,95.3 L841.0,100.5 L841.6,87.6 L842.1,96.6 L842.9,101.8 L843.7,99.2 L844.7,96.6 L845.5,99.2 L846.3,103.1 L847.3,103.7 L848.2,104.4 L849.5,103.7 L850.8,103.1 L851.8,99.2 L852.6,96.0 L853.7,97.9 L854.7,99.2 L856.0,101.1 L857.3,102.4 L858.5,104.4 L859.2,105.0 L860.2,103.1 L861.1,101.8 L862.1,101.1 L863.1,101.8 L864.0,100.5 L865.0,101.8 L866.3,101.1 L867.6,100.5 L868.9,99.9 L869.8,100.5 L870.5,101.8 L870.9,104.4" transform="translate(0,338.5)" fill="none" stroke="#0a6eb4" stroke-width="1.7" stroke-linejoin="round"/>
<line x1="61" y1="485.5" x2="78.2" y2="485.5" stroke="#cc5a2c" stroke-width="1.45"/><line x1="78.2" y1="518.8" x2="129.7" y2="518.8" stroke="#cc5a2c" stroke-width="1.45"/><line x1="129.7" y1="503" x2="148.3" y2="503" stroke="#cc5a2c" stroke-width="1.45"/><line x1="148.3" y1="494.7" x2="205.1" y2="494.7" stroke="#cc5a2c" stroke-width="1.45"/><line x1="205.1" y1="518.4" x2="270.4" y2="518.4" stroke="#cc5a2c" stroke-width="1.45"/><line x1="270.4" y1="475.6" x2="297.5" y2="475.6" stroke="#cc5a2c" stroke-width="1.45"/><line x1="297.5" y1="514.7" x2="340.7" y2="514.7" stroke="#cc5a2c" stroke-width="1.45"/><line x1="340.7" y1="519.2" x2="416" y2="519.2" stroke="#cc5a2c" stroke-width="1.45"/><line x1="416" y1="525.1" x2="427.2" y2="525.1" stroke="#cc5a2c" stroke-width="1.45"/><line x1="427.2" y1="516.7" x2="484" y2="516.7" stroke="#cc5a2c" stroke-width="1.45"/><line x1="484" y1="535" x2="514.9" y2="535" stroke="#cc5a2c" stroke-width="1.45"/><line x1="514.9" y1="504.6" x2="706.9" y2="504.6" stroke="#cc5a2c" stroke-width="1.45"/><line x1="706.9" y1="471.5" x2="746.9" y2="471.5" stroke="#cc5a2c" stroke-width="1.45"/><line x1="746.9" y1="530.9" x2="759.4" y2="530.9" stroke="#cc5a2c" stroke-width="1.45"/><line x1="759.4" y1="472.5" x2="842" y2="472.5" stroke="#cc5a2c" stroke-width="1.45"/><line x1="842" y1="538.4" x2="872" y2="538.4" stroke="#cc5a2c" stroke-width="1.45"/>
<line x1="78.2" y1="338.5" x2="78.2" y2="546.7" stroke="#80ad48" stroke-width="1.8"/>
<line x1="129.7" y1="338.5" x2="129.7" y2="546.7" stroke="#80ad48" stroke-width="1.8"/>
<line x1="148.3" y1="338.5" x2="148.3" y2="546.7" stroke="#80ad48" stroke-width="1.8"/>
<line x1="205.1" y1="338.5" x2="205.1" y2="546.7" stroke="#80ad48" stroke-width="1.8"/>
<line x1="270.4" y1="338.5" x2="270.4" y2="546.7" stroke="#80ad48" stroke-width="1.8"/>
<line x1="297.5" y1="338.5" x2="297.5" y2="546.7" stroke="#80ad48" stroke-width="1.8"/>
<line x1="340.7" y1="338.5" x2="340.7" y2="546.7" stroke="#80ad48" stroke-width="1.8"/>
<line x1="416.0" y1="338.5" x2="416.0" y2="546.7" stroke="#80ad48" stroke-width="1.8"/>
<line x1="427.2" y1="338.5" x2="427.2" y2="546.7" stroke="#80ad48" stroke-width="1.8"/>
<line x1="484.0" y1="338.5" x2="484.0" y2="546.7" stroke="#80ad48" stroke-width="1.8"/>
<line x1="514.9" y1="338.5" x2="514.9" y2="546.7" stroke="#80ad48" stroke-width="1.8"/>
<line x1="706.9" y1="338.5" x2="706.9" y2="546.7" stroke="#80ad48" stroke-width="1.8"/>
<line x1="746.9" y1="338.5" x2="746.9" y2="546.7" stroke="#80ad48" stroke-width="1.8"/>
<line x1="759.4" y1="338.5" x2="759.4" y2="546.7" stroke="#80ad48" stroke-width="1.8"/>
<line x1="842.0" y1="338.5" x2="842.0" y2="546.7" stroke="#80ad48" stroke-width="1.8"/>
<rect x="61.0" y="338.5" width="894.0" height="208.2" fill="none" stroke="#222" stroke-width="1.5"/>
<line x1="61.00" y1="546.7" x2="61.00" y2="537.1" stroke="#222" stroke-width="1.5"/>
<line x1="61.00" y1="338.5" x2="61.00" y2="348.1" stroke="#222" stroke-width="1.5"/>
<line x1="150.40" y1="546.7" x2="150.40" y2="537.1" stroke="#222" stroke-width="1.5"/>
<line x1="150.40" y1="338.5" x2="150.40" y2="348.1" stroke="#222" stroke-width="1.5"/>
<line x1="239.80" y1="546.7" x2="239.80" y2="537.1" stroke="#222" stroke-width="1.5"/>
<line x1="239.80" y1="338.5" x2="239.80" y2="348.1" stroke="#222" stroke-width="1.5"/>
<line x1="329.20" y1="546.7" x2="329.20" y2="537.1" stroke="#222" stroke-width="1.5"/>
<line x1="329.20" y1="338.5" x2="329.20" y2="348.1" stroke="#222" stroke-width="1.5"/>
<line x1="418.60" y1="546.7" x2="418.60" y2="537.1" stroke="#222" stroke-width="1.5"/>
<line x1="418.60" y1="338.5" x2="418.60" y2="348.1" stroke="#222" stroke-width="1.5"/>
<line x1="508.00" y1="546.7" x2="508.00" y2="537.1" stroke="#222" stroke-width="1.5"/>
<line x1="508.00" y1="338.5" x2="508.00" y2="348.1" stroke="#222" stroke-width="1.5"/>
<line x1="597.40" y1="546.7" x2="597.40" y2="537.1" stroke="#222" stroke-width="1.5"/>
<line x1="597.40" y1="338.5" x2="597.40" y2="348.1" stroke="#222" stroke-width="1.5"/>
<line x1="686.80" y1="546.7" x2="686.80" y2="537.1" stroke="#222" stroke-width="1.5"/>
<line x1="686.80" y1="338.5" x2="686.80" y2="348.1" stroke="#222" stroke-width="1.5"/>
<line x1="776.20" y1="546.7" x2="776.20" y2="537.1" stroke="#222" stroke-width="1.5"/>
<line x1="776.20" y1="338.5" x2="776.20" y2="348.1" stroke="#222" stroke-width="1.5"/>
<line x1="865.60" y1="546.7" x2="865.60" y2="537.1" stroke="#222" stroke-width="1.5"/>
<line x1="865.60" y1="338.5" x2="865.60" y2="348.1" stroke="#222" stroke-width="1.5"/>
<line x1="955.00" y1="546.7" x2="955.00" y2="537.1" stroke="#222" stroke-width="1.5"/>
<line x1="955.00" y1="338.5" x2="955.00" y2="348.1" stroke="#222" stroke-width="1.5"/>
<line x1="61.0" y1="355.85" x2="70.6" y2="355.85" stroke="#222" stroke-width="1.5"/>
<line x1="955.0" y1="355.85" x2="945.4" y2="355.85" stroke="#222" stroke-width="1.5"/>
<line x1="61.0" y1="442.60" x2="70.6" y2="442.60" stroke="#222" stroke-width="1.5"/>
<line x1="955.0" y1="442.60" x2="945.4" y2="442.60" stroke="#222" stroke-width="1.5"/>
<line x1="61.0" y1="529.35" x2="70.6" y2="529.35" stroke="#222" stroke-width="1.5"/>
<line x1="955.0" y1="529.35" x2="945.4" y2="529.35" stroke="#222" stroke-width="1.5"/>
<line x1="955.0" y1="477.30" x2="945.4" y2="477.30" stroke="#cc5a2c" stroke-width="1.5"/>
<line x1="955.0" y1="407.90" x2="945.4" y2="407.90" stroke="#cc5a2c" stroke-width="1.5"/>
<text x="61.00" y="569.50" font-size="19" text-anchor="middle">0</text>
<text x="150.40" y="569.50" font-size="19" text-anchor="middle">5</text>
<text x="239.80" y="569.50" font-size="19" text-anchor="middle">10</text>
<text x="329.20" y="569.50" font-size="19" text-anchor="middle">15</text>
<text x="418.60" y="569.50" font-size="19" text-anchor="middle">20</text>
<text x="508.00" y="569.50" font-size="19" text-anchor="middle">25</text>
<text x="597.40" y="569.50" font-size="19" text-anchor="middle">30</text>
<text x="686.80" y="569.50" font-size="19" text-anchor="middle">35</text>
<text x="776.20" y="569.50" font-size="19" text-anchor="middle">40</text>
<text x="865.60" y="569.50" font-size="19" text-anchor="middle">45</text>
<text x="955.00" y="569.50" font-size="19" text-anchor="middle">50</text>
<text x="52.5" y="361.65" font-size="19" text-anchor="end">-5</text>
<text x="52.5" y="448.40" font-size="19" text-anchor="end">0</text>
<text x="52.5" y="535.15" font-size="19" text-anchor="end">5</text>
<text x="508.0" y="600.60" font-size="19" text-anchor="middle">Age (ka)</text>
<text transform="translate(16.8,442.6) rotate(-90)" x="0" y="0" font-size="19" text-anchor="middle">K (PC1 Scores)</text>
<text x="964.0" y="552.50" font-size="19" fill="#cc5a2c" class="o">0</text>
<text x="964.0" y="483.10" font-size="19" fill="#cc5a2c" class="o">1</text>
<text x="964.0" y="413.70" font-size="19" fill="#cc5a2c" class="o">2</text>
<text x="964.0" y="344.30" font-size="19" fill="#cc5a2c" class="o">3</text>
<text transform="translate(1006,442.6) rotate(-90)" x="0" y="0" font-size="19" fill="#cc5a2c" class="o" text-anchor="middle">Standard Deviation</text>
<text transform="translate(1.4,337.9) scale(1.0,1)" font-size="23">B</text>
<line x1="61.00" y1="658.6" x2="61.00" y2="866.8" stroke="#cecece" stroke-width="1"/>
<line x1="150.40" y1="658.6" x2="150.40" y2="866.8" stroke="#cecece" stroke-width="1"/>
<line x1="239.80" y1="658.6" x2="239.80" y2="866.8" stroke="#cecece" stroke-width="1"/>
<line x1="329.20" y1="658.6" x2="329.20" y2="866.8" stroke="#cecece" stroke-width="1"/>
<line x1="418.60" y1="658.6" x2="418.60" y2="866.8" stroke="#cecece" stroke-width="1"/>
<line x1="508.00" y1="658.6" x2="508.00" y2="866.8" stroke="#cecece" stroke-width="1"/>
<line x1="597.40" y1="658.6" x2="597.40" y2="866.8" stroke="#cecece" stroke-width="1"/>
<line x1="686.80" y1="658.6" x2="686.80" y2="866.8" stroke="#cecece" stroke-width="1"/>
<line x1="776.20" y1="658.6" x2="776.20" y2="866.8" stroke="#cecece" stroke-width="1"/>
<line x1="865.60" y1="658.6" x2="865.60" y2="866.8" stroke="#cecece" stroke-width="1"/>
<line x1="955.00" y1="658.6" x2="955.00" y2="866.8" stroke="#cecece" stroke-width="1"/>
<line x1="61.0" y1="675.95" x2="955.0" y2="675.95" stroke="#cecece" stroke-width="1"/>
<line x1="61.0" y1="762.70" x2="955.0" y2="762.70" stroke="#cecece" stroke-width="1"/>
<line x1="61.0" y1="849.45" x2="955.0" y2="849.45" stroke="#cecece" stroke-width="1"/>
<path d="M60.6,54.4 L61.0,80.5 L62.8,96.0 L64.7,104.7 L65.7,97.9 L67.1,101.8 L68.1,88.3 L68.6,78.6 L69.1,32.1 L70.0,77.6 L72.0,71.8 L73.4,78.6 L74.4,74.7 L75.4,80.5 L76.8,74.7 L77.5,76.6 L78.4,120.4 L79.3,120.4 L79.9,131.0 L81.1,140.0 L82.3,134.0 L83.3,138.5 L84.8,134.0 L86.4,140.0 L87.4,135.5 L88.9,114.4 L90.1,137.0 L91.3,128.0 L92.4,126.5 L93.9,118.9 L95.8,109.9 L96.9,108.4 L97.7,125.0 L98.9,131.0 L99.9,143.0 L101.4,137.0 L102.9,141.5 L104.9,134.0 L106.7,141.5 L107.9,135.5 L109.7,132.5 L111.2,125.0 L112.7,131.0 L114.2,129.5 L116.0,135.5 L118.0,128.0 L119.0,116.7 L119.9,128.0 L121.0,120.4 L122.5,125.0 L124.0,121.9 L125.5,125.0 L127.0,123.5 L128.5,128.0 L129.6,118.9 L130.8,109.9 L132.0,112.9 L133.0,106.9 L134.1,115.9 L135.3,108.4 L136.5,125.0 L137.6,112.9 L138.6,106.9 L139.8,84.3 L141.0,115.9 L142.1,94.8 L143.1,87.3 L144.3,97.8 L145.5,91.8 L146.6,100.9 L147.7,81.3 L147.8,63.8 L148.8,63.8 L149.5,69.4 L150.2,79.9 L150.9,69.4 L152.0,59.6 L152.7,43.6 L153.4,41.5 L153.9,39.4 L154.4,55.4 L154.9,69.4 L155.3,77.1 L155.8,59.6 L156.5,49.9 L157.2,47.1 L157.9,45.0 L158.6,43.6 L159.3,59.6 L159.8,49.9 L160.4,41.5 L161.1,40.8 L161.8,49.9 L162.5,58.2 L163.0,47.1 L163.7,38.7 L164.6,38.0 L165.4,49.9 L166.0,41.5 L166.7,38.0 L167.4,37.3 L168.1,35.9 L168.8,29.2 L169.3,38.0 L169.9,49.9 L170.5,41.5 L171.0,32.4 L171.6,34.5 L172.1,40.1 L172.6,42.9 L173.3,38.0 L174.0,35.9 L174.7,31.0 L175.2,42.9 L175.6,55.4 L176.1,47.1 L176.8,38.7 L177.5,36.6 L178.2,38.0 L178.9,41.5 L179.6,49.9 L180.1,70.8 L180.6,54.0 L181.3,51.2 L182.0,47.1 L182.7,43.6 L183.4,39.4 L184.3,33.8 L185.0,35.9 L185.9,38.0 L186.9,39.4 L188.0,41.5 L188.7,45.0 L189.4,43.6 L190.3,42.2 L191.1,41.5 L192.2,45.0 L193.1,48.5 L193.6,56.8 L194.1,69.4 L194.6,83.4 L195.3,76.4 L196.0,63.8 L196.6,61.0 L197.3,69.4 L197.8,83.4 L198.5,69.4 L199.2,59.6 L199.9,51.9 L200.6,48.5 L201.3,42.9 L202.0,36.6 L202.7,34.5 L203.4,31.7 L204.0,35.9 L204.4,38.0 L205.1,32.8 L206.1,41.4 L207.0,32.8 L208.6,31.7 L210.2,32.8 L211.8,30.6 L212.9,27.4 L214.5,27.4 L216.7,25.8 L218.8,26.3 L220.4,25.8 L222.0,25.2 L224.2,25.8 L226.3,25.2 L228.0,24.7 L229.4,24.2 L230.1,11.8 L231.2,13.4 L232.3,17.7 L233.9,19.9 L234.9,29.5 L236.0,12.3 L237.1,29.0 L238.0,17.7 L239.0,20.9 L241.6,17.7 L242.7,15.6 L244.3,13.4 L245.2,22.0 L245.9,26.3 L247.5,28.5 L248.6,29.5 L249.7,23.1 L250.8,24.2 L252.4,25.2 L253.8,28.5 L254.8,41.4 L255.9,48.9 L256.7,30.6 L258.3,32.8 L259.9,32.8 L261.5,29.5 L263.1,30.6 L264.7,29.5 L266.3,30.6 L267.7,31.7 L268.8,38.1 L269.6,39.2 L270.6,84.1 L271.0,102.2 L271.9,97.0 L272.8,88.4 L273.6,92.7 L274.5,80.7 L275.3,78.1 L275.8,85.8 L276.5,109.9 L277.1,123.7 L277.7,128.8 L278.8,131.4 L279.6,135.7 L280.5,130.6 L281.4,139.2 L282.2,132.3 L283.1,138.3 L283.9,131.4 L285.1,135.7 L286.1,134.0 L287.1,140.9 L288.2,132.3 L289.4,125.4 L290.0,119.4 L290.8,115.9 L291.4,108.2 L292.1,113.3 L293.0,123.7 L293.7,111.6 L294.5,110.8 L295.1,127.1 L296.0,130.6 L296.8,132.3 L297.3,134.0 L298.1,60.7 L298.6,58.6 L299.7,55.3 L301.1,54.3 L302.2,58.6 L303.4,88.7 L304.5,73.6 L305.8,70.4 L307.2,74.7 L308.8,82.2 L309.9,82.2 L311.0,69.3 L312.0,59.6 L313.7,57.5 L315.3,57.0 L316.9,58.0 L318.5,60.7 L320.1,65.0 L321.7,66.1 L323.3,62.3 L324.9,63.9 L326.6,60.7 L328.2,59.6 L329.8,59.6 L331.4,67.2 L332.7,71.5 L334.1,76.8 L335.2,62.9 L336.2,65.0 L337.6,55.3 L339.1,61.8 L340.3,76.0 L341.2,100.9 L342.3,99.7 L343.3,97.3 L344.7,96.1 L346.2,93.8 L347.8,92.6 L349.2,93.8 L351.0,94.3 L352.5,96.1 L353.9,91.4 L355.4,92.0 L356.9,95.5 L358.7,90.2 L360.1,91.4 L361.6,94.9 L363.4,96.1 L365.2,93.8 L367.0,94.9 L368.4,98.5 L369.6,97.3 L370.5,87.8 L372.3,73.0 L374.1,78.4 L375.8,80.7 L377.4,81.3 L379.0,77.2 L380.0,86.7 L380.9,97.3 L381.7,93.8 L382.9,96.1 L384.5,98.5 L385.9,96.7 L388.3,96.1 L390.6,95.5 L392.4,96.1 L393.6,96.1 L395.4,87.8 L396.5,96.1 L397.7,99.7 L398.9,104.4 L400.1,99.7 L401.3,87.8 L403.0,74.8 L404.8,85.5 L406.0,93.8 L407.4,94.9 L409.0,92.6 L410.7,91.4 L411.9,87.8 L413.1,85.5 L414.1,78.4 L414.9,81.9 L415.5,91.4 L416.4,105.6 L417.2,112.7 L418.4,111.5 L419.6,118.6 L420.8,113.9 L422.6,112.7 L424.0,116.2 L424.9,122.2 L426.1,124.5 L427.1,125.7 L428.5,141.1 L429.7,142.3 L431.1,138.7 L432.6,135.2 L433.8,134.0 L435.4,135.3 L437.9,131.3 L439.4,133.3 L440.9,137.2 L442.9,142.2 L444.4,139.2 L446.3,137.7 L447.8,138.7 L449.3,140.2 L450.3,148.1 L451.0,158.0 L452.3,154.1 L453.8,153.1 L455.2,154.1 L456.7,152.6 L457.7,154.1 L459.2,160.5 L460.2,152.1 L461.2,147.1 L462.7,146.6 L464.2,140.2 L465.1,136.7 L466.1,138.2 L467.6,139.2 L469.1,140.2 L470.4,137.2 L471.6,139.2 L473.1,140.2 L474.6,141.2 L475.5,135.3 L476.0,143.2 L477.0,142.2 L478.5,146.1 L479.5,152.1 L480.5,151.1 L481.5,146.1 L482.5,150.1 L483.5,157.0 L484.3,163.0 L485.4,165.0 L486.6,165.9 L487.9,162.0 L488.9,160.5 L489.9,166.9 L490.9,168.9 L492.4,170.9 L493.9,173.9 L494.9,169.9 L496.3,168.9 L497.8,170.9 L499.3,165.9 L500.5,165.0 L501.8,165.9 L503.3,165.9 L504.5,167.9 L505.7,169.9 L507.2,166.9 L508.7,165.9 L510.2,166.9 L511.7,165.9 L513.0,165.0 L514.2,165.9 L515.0,162.0 L516.1,154.1 L517.1,146.1 L517.9,143.2 L518.9,148.1 L519.9,154.1 L521.1,157.0 L522.1,164.0 L523.6,164.0 L525.0,165.9 L526.5,166.9 L528.0,167.9 L529.0,165.9 L530.4,162.5 L531.9,162.0 L533.4,162.5 L534.9,164.5 L536.1,165.0 L537.4,159.5 L538.9,159.0 L539.9,157.0 L540.6,139.2 L541.6,136.2 L542.8,129.8 L544.0,134.3 L544.8,143.2 L546.0,154.1 L547.0,160.0 L548.0,160.0 L549.0,152.1 L549.8,145.2 L550.5,144.2 L551.5,150.1 L552.5,160.0 L553.5,159.0 L554.7,161.0 L556.2,161.5 L557.5,162.0 L558.7,161.0 L559.7,154.1 L560.6,150.1 L561.4,149.1 L562.4,153.1 L563.4,159.0 L564.4,163.0 L565.4,159.0 L566.6,158.0 L567.8,160.0 L569.1,159.5 L570.5,159.0 L571.5,158.0 L572.3,148.1 L573.5,147.1 L574.5,146.1 L575.5,143.2 L576.3,132.3 L577.0,125.8 L578.0,132.3 L579.0,143.2 L580.0,154.1 L580.9,162.0 L581.9,167.9 L582.9,163.0 L584.2,164.0 L585.6,165.0 L586.9,165.9 L588.4,167.9 L590.3,171.4 L591.8,167.9 L593.3,168.9 L594.8,169.9 L596.3,169.9 L598.3,167.9 L599.8,168.9 L601.2,168.4 L602.7,167.9 L604.2,165.9 L605.2,162.0 L606.0,164.0 L606.4,158.0 L607.2,148.1 L608.0,130.3 L608.7,118.4 L609.7,122.4 L610.6,133.3 L611.6,135.3 L612.6,148.1 L613.1,154.1 L614.6,153.1 L615.6,148.1 L616.6,134.8 L617.3,135.3 L618.1,148.1 L618.6,159.0 L620.0,159.0 L622.0,159.0 L623.5,157.0 L624.8,144.2 L625.7,153.1 L626.4,162.0 L627.1,165.5 L628.4,164.5 L629.9,163.0 L631.1,165.9 L632.9,167.9 L634.4,167.9 L635.6,160.5 L636.6,163.0 L637.6,168.9 L639.0,168.9 L640.3,169.9 L641.3,175.8 L642.0,179.8 L643.0,169.9 L643.8,160.0 L644.8,152.1 L645.7,153.1 L647.2,153.6 L648.7,154.1 L649.7,156.5 L650.7,158.0 L651.7,157.0 L652.9,158.0 L654.2,162.0 L655.1,166.9 L656.1,167.9 L657.6,167.9 L659.1,167.4 L660.1,165.5 L661.4,167.4 L662.6,166.9 L664.1,167.4 L665.5,167.9 L667.0,166.9 L668.5,168.4 L670.0,169.4 L671.0,171.9 L672.0,168.9 L673.5,168.9 L675.0,167.4 L676.4,167.9 L677.4,165.9 L678.4,157.0 L679.4,148.1 L680.4,142.7 L681.2,150.1 L681.9,160.0 L682.9,167.9 L683.9,169.9 L685.3,169.9 L686.8,167.9 L688.3,169.9 L689.1,157.0 L689.8,164.0 L690.5,167.9 L691.5,169.9 L692.8,172.9 L693.5,166.9 L694.3,154.1 L695.0,145.2 L695.7,158.0 L696.4,167.9 L697.2,174.9 L698.2,173.9 L699.2,167.9 L700.2,138.7 L701.0,152.1 L702.0,160.0 L703.2,161.0 L704.7,162.0 L705.6,158.0 L706.6,148.1 L706.9,112.2 L707.6,86.3 L708.2,112.2 L708.9,138.0 L710.2,140.6 L711.2,143.2 L712.1,150.9 L713.0,156.1 L714.7,157.4 L716.0,156.1 L717.3,150.9 L718.6,149.6 L719.9,148.4 L720.8,144.5 L721.5,123.8 L722.4,138.0 L723.3,144.5 L724.4,132.9 L725.0,118.6 L725.9,114.8 L726.7,103.1 L727.6,105.7 L728.5,100.6 L729.3,112.2 L730.2,130.3 L731.1,138.0 L731.9,156.1 L732.8,135.4 L733.7,131.6 L734.5,148.4 L735.1,127.7 L735.7,85.0 L736.4,125.1 L737.3,132.9 L738.3,129.0 L739.2,136.7 L740.5,138.0 L741.8,139.3 L743.1,135.4 L744.0,87.6 L744.8,105.7 L745.7,122.5 L746.3,127.7 L747.0,112.2 L747.6,79.9 L748.3,60.5 L748.9,76.0 L749.6,68.3 L750.9,69.5 L752.8,70.8 L754.7,70.2 L756.7,69.5 L758.4,70.2 L759.3,76.0 L759.8,86.3 L760.3,100.6 L761.3,104.8 L762.7,104.8 L763.7,116.0 L764.8,130.0 L765.9,120.2 L767.3,121.6 L768.7,118.8 L769.7,111.8 L770.7,125.8 L771.5,114.6 L772.5,99.2 L773.9,92.2 L774.9,85.3 L776.0,81.1 L777.4,86.7 L778.8,93.6 L780.2,96.4 L781.3,110.4 L782.3,127.2 L783.7,131.4 L784.7,138.4 L785.5,145.4 L786.5,128.6 L787.4,130.0 L788.6,132.8 L790.0,137.0 L791.4,134.2 L792.8,135.6 L794.2,137.0 L795.6,114.6 L797.0,102.0 L798.4,96.4 L799.8,90.8 L800.9,102.0 L802.3,95.0 L803.7,104.8 L804.7,96.4 L806.0,92.2 L807.4,85.3 L808.8,93.6 L810.2,110.4 L811.2,138.4 L812.3,146.8 L813.0,152.4 L813.7,160.8 L814.4,117.4 L815.1,102.0 L816.3,116.0 L817.2,120.2 L818.2,99.2 L819.6,99.2 L820.7,104.8 L821.9,106.2 L822.8,110.4 L823.5,124.4 L824.7,102.0 L825.6,110.4 L826.6,118.8 L827.7,110.4 L828.8,113.2 L829.8,99.2 L830.5,92.8 L830.9,75.3 L831.5,79.9 L832.1,97.9 L832.7,92.8 L833.4,79.9 L834.4,72.1 L835.0,75.3 L836.0,77.3 L836.9,78.6 L837.6,83.1 L838.2,89.5 L838.7,99.2 L839.2,92.8 L839.8,102.4 L840.5,95.3 L841.0,100.5 L841.6,87.6 L842.1,96.6 L842.9,101.8 L843.7,99.2 L844.7,96.6 L845.5,99.2 L846.3,103.1 L847.3,103.7 L848.2,104.4 L849.5,103.7 L850.8,103.1 L851.8,99.2 L852.6,96.0 L853.7,97.9 L854.7,99.2 L856.0,101.1 L857.3,102.4 L858.5,104.4 L859.2,105.0 L860.2,103.1 L861.1,101.8 L862.1,101.1 L863.1,101.8 L864.0,100.5 L865.0,101.8 L866.3,101.1 L867.6,100.5 L868.9,99.9 L869.8,100.5 L870.5,101.8 L870.9,104.4" transform="translate(0,658.6)" fill="none" stroke="#0a6eb4" stroke-width="1.7" stroke-linejoin="round"/>
<line x1="61" y1="748" x2="78.2" y2="735.5" stroke="#cc5a2c" stroke-width="1.45"/><line x1="78.2" y1="792" x2="129.3" y2="786" stroke="#cc5a2c" stroke-width="1.45"/><line x1="129.3" y1="786" x2="165" y2="695.1" stroke="#cc5a2c" stroke-width="1.45"/><line x1="165" y1="695.1" x2="201.6" y2="718.3" stroke="#cc5a2c" stroke-width="1.45"/><line x1="201.6" y1="685.2" x2="270.4" y2="687.2" stroke="#cc5a2c" stroke-width="1.45"/><line x1="270.4" y1="751" x2="276" y2="751" stroke="#cc5a2c" stroke-width="1.45"/><line x1="276" y1="792" x2="297.5" y2="781.3" stroke="#cc5a2c" stroke-width="1.45"/><line x1="297.5" y1="725.8" x2="340.7" y2="722.9" stroke="#cc5a2c" stroke-width="1.45"/><line x1="340.7" y1="753" x2="416" y2="748.6" stroke="#cc5a2c" stroke-width="1.45"/><line x1="416" y1="781.7" x2="514.9" y2="831.2" stroke="#cc5a2c" stroke-width="1.45"/><line x1="514.9" y1="813.8" x2="706.5" y2="823.7" stroke="#cc5a2c" stroke-width="1.45"/><line x1="708.5" y1="808.7" x2="746.9" y2="781.9" stroke="#cc5a2c" stroke-width="1.45"/><line x1="746.9" y1="718.2" x2="771.9" y2="786" stroke="#cc5a2c" stroke-width="1.45"/><line x1="771.9" y1="751.5" x2="795.7" y2="803" stroke="#cc5a2c" stroke-width="1.45"/><line x1="795.7" y1="765.8" x2="872" y2="757" stroke="#cc5a2c" stroke-width="1.45"/>
<line x1="78.2" y1="658.6" x2="78.2" y2="866.8" stroke="#80ad48" stroke-width="1.8"/>
<line x1="129.3" y1="658.6" x2="129.3" y2="866.8" stroke="#80ad48" stroke-width="1.8"/>
<line x1="165.0" y1="658.6" x2="165.0" y2="866.8" stroke="#80ad48" stroke-width="1.8"/>
<line x1="201.6" y1="658.6" x2="201.6" y2="866.8" stroke="#80ad48" stroke-width="1.8"/>
<line x1="270.4" y1="658.6" x2="270.4" y2="866.8" stroke="#80ad48" stroke-width="1.8"/>
<line x1="276.0" y1="658.6" x2="276.0" y2="866.8" stroke="#80ad48" stroke-width="1.8"/>
<line x1="297.5" y1="658.6" x2="297.5" y2="866.8" stroke="#80ad48" stroke-width="1.8"/>
<line x1="340.7" y1="658.6" x2="340.7" y2="866.8" stroke="#80ad48" stroke-width="1.8"/>
<line x1="416.0" y1="658.6" x2="416.0" y2="866.8" stroke="#80ad48" stroke-width="1.8"/>
<line x1="514.9" y1="658.6" x2="514.9" y2="866.8" stroke="#80ad48" stroke-width="1.8"/>
<line x1="706.5" y1="658.6" x2="706.5" y2="866.8" stroke="#80ad48" stroke-width="1.8"/>
<line x1="708.5" y1="658.6" x2="708.5" y2="866.8" stroke="#80ad48" stroke-width="1.8"/>
<line x1="746.9" y1="658.6" x2="746.9" y2="866.8" stroke="#80ad48" stroke-width="1.8"/>
<line x1="771.9" y1="658.6" x2="771.9" y2="866.8" stroke="#80ad48" stroke-width="1.8"/>
<line x1="795.7" y1="658.6" x2="795.7" y2="866.8" stroke="#80ad48" stroke-width="1.8"/>
<rect x="61.0" y="658.6" width="894.0" height="208.2" fill="none" stroke="#222" stroke-width="1.5"/>
<line x1="61.00" y1="866.8" x2="61.00" y2="857.1999999999999" stroke="#222" stroke-width="1.5"/>
<line x1="61.00" y1="658.6" x2="61.00" y2="668.2" stroke="#222" stroke-width="1.5"/>
<line x1="150.40" y1="866.8" x2="150.40" y2="857.1999999999999" stroke="#222" stroke-width="1.5"/>
<line x1="150.40" y1="658.6" x2="150.40" y2="668.2" stroke="#222" stroke-width="1.5"/>
<line x1="239.80" y1="866.8" x2="239.80" y2="857.1999999999999" stroke="#222" stroke-width="1.5"/>
<line x1="239.80" y1="658.6" x2="239.80" y2="668.2" stroke="#222" stroke-width="1.5"/>
<line x1="329.20" y1="866.8" x2="329.20" y2="857.1999999999999" stroke="#222" stroke-width="1.5"/>
<line x1="329.20" y1="658.6" x2="329.20" y2="668.2" stroke="#222" stroke-width="1.5"/>
<line x1="418.60" y1="866.8" x2="418.60" y2="857.1999999999999" stroke="#222" stroke-width="1.5"/>
<line x1="418.60" y1="658.6" x2="418.60" y2="668.2" stroke="#222" stroke-width="1.5"/>
<line x1="508.00" y1="866.8" x2="508.00" y2="857.1999999999999" stroke="#222" stroke-width="1.5"/>
<line x1="508.00" y1="658.6" x2="508.00" y2="668.2" stroke="#222" stroke-width="1.5"/>
<line x1="597.40" y1="866.8" x2="597.40" y2="857.1999999999999" stroke="#222" stroke-width="1.5"/>
<line x1="597.40" y1="658.6" x2="597.40" y2="668.2" stroke="#222" stroke-width="1.5"/>
<line x1="686.80" y1="866.8" x2="686.80" y2="857.1999999999999" stroke="#222" stroke-width="1.5"/>
<line x1="686.80" y1="658.6" x2="686.80" y2="668.2" stroke="#222" stroke-width="1.5"/>
<line x1="776.20" y1="866.8" x2="776.20" y2="857.1999999999999" stroke="#222" stroke-width="1.5"/>
<line x1="776.20" y1="658.6" x2="776.20" y2="668.2" stroke="#222" stroke-width="1.5"/>
<line x1="865.60" y1="866.8" x2="865.60" y2="857.1999999999999" stroke="#222" stroke-width="1.5"/>
<line x1="865.60" y1="658.6" x2="865.60" y2="668.2" stroke="#222" stroke-width="1.5"/>
<line x1="955.00" y1="866.8" x2="955.00" y2="857.1999999999999" stroke="#222" stroke-width="1.5"/>
<line x1="955.00" y1="658.6" x2="955.00" y2="668.2" stroke="#222" stroke-width="1.5"/>
<line x1="61.0" y1="675.95" x2="70.6" y2="675.95" stroke="#222" stroke-width="1.5"/>
<line x1="955.0" y1="675.95" x2="945.4" y2="675.95" stroke="#222" stroke-width="1.5"/>
<line x1="61.0" y1="762.70" x2="70.6" y2="762.70" stroke="#222" stroke-width="1.5"/>
<line x1="955.0" y1="762.70" x2="945.4" y2="762.70" stroke="#222" stroke-width="1.5"/>
<line x1="61.0" y1="849.45" x2="70.6" y2="849.45" stroke="#222" stroke-width="1.5"/>
<line x1="955.0" y1="849.45" x2="945.4" y2="849.45" stroke="#222" stroke-width="1.5"/>
<text x="61.00" y="889.80" font-size="21" text-anchor="middle">0</text>
<text x="150.40" y="889.80" font-size="21" text-anchor="middle">5</text>
<text x="239.80" y="889.80" font-size="21" text-anchor="middle">10</text>
<text x="329.20" y="889.80" font-size="21" text-anchor="middle">15</text>
<text x="418.60" y="889.80" font-size="21" text-anchor="middle">20</text>
<text x="508.00" y="889.80" font-size="21" text-anchor="middle">25</text>
<text x="597.40" y="889.80" font-size="21" text-anchor="middle">30</text>
<text x="686.80" y="889.80" font-size="21" text-anchor="middle">35</text>
<text x="776.20" y="889.80" font-size="21" text-anchor="middle">40</text>
<text x="865.60" y="889.80" font-size="21" text-anchor="middle">45</text>
<text x="955.00" y="889.80" font-size="21" text-anchor="middle">50</text>
<text x="52.5" y="681.75" font-size="21" text-anchor="end">-5</text>
<text x="52.5" y="768.50" font-size="21" text-anchor="end">0</text>
<text x="52.5" y="855.25" font-size="21" text-anchor="end">5</text>
<text x="508.0" y="924.80" font-size="22.8" text-anchor="middle">Age (ka)</text>
<text transform="translate(16.8,762.7) rotate(-90)" x="0" y="0" font-size="19" text-anchor="middle">K (PC1 Scores)</text>
<text transform="translate(1.9,657.5) scale(0.98,1)" font-size="23">C</text>
</g>
</svg>
</body></html>
